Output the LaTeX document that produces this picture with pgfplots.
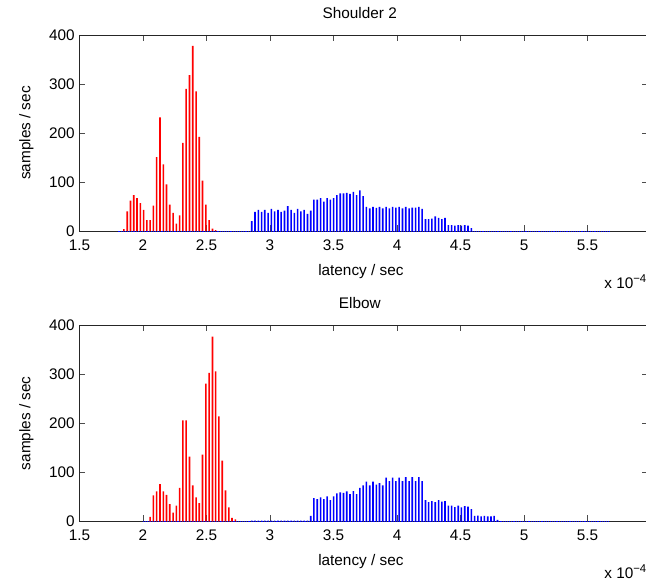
\documentclass[border=0pt]{standalone}
\usepackage{fontspec}
\setmainfont{Liberation Sans}
\usepackage{pgfplots}
\pgfplotsset{compat=1.18}

\pgfplotsset{
  mathist/.style={
    scale only axis, width=426.4pt, height=147pt,
    anchor=south west,
    xmin=1.5, xmax=5.976, ymin=0, ymax=400,
    xtick={1.5,2,2.5,3,3.5,4,4.5,5,5.5},
    ytick={0,100,200,300,400},
    tick align=inside, major tick length=4.5pt,
    xtick pos=both, ytick pos=both,
    axis line style={line width=0.4pt, black!85},
    every tick/.style={line width=0.4pt, black!70},
    /pgf/number format/assume math mode=true,
    tick label style={font=\fontsize{11.5}{13}\selectfont},
    xticklabel style={yshift=-3pt},
    label style={font=\fontsize{11.5}{13}\selectfont},
    every axis title/.style={font=\fontsize{11.5}{13}\selectfont, at={(axis description cs:0.493,1.112)}, anchor=center},
    xlabel style={at={(axis description cs:0.495,-0.205)}, anchor=center},
    ylabel style={at={(axis description cs:-0.0932,0.5)}, anchor=center, rotate=0},
    xlabel={latency / sec}, ylabel={samples / sec},
    clip=false,
  },
  redbar/.style={ybar, bar shift=0pt, bar width=1.2pt, fill=red, draw=none},
  bluebar/.style={ybar, bar shift=0pt, bar width=1.2pt, fill=blue, draw=none},
}

\begin{document}
\begin{tikzpicture}[x=1pt,y=1pt]
\path[use as bounding box] (0,0) rectangle (484.5,435.75);

% top: Shoulder 2
\begin{axis}[mathist, at={(59.6pt,262.5pt)}, title={Shoulder 2}]
\addplot[blue, densely dotted, line width=0.4pt] coordinates {(1.80,0) (5.67,0)};
\addplot[redbar] coordinates {
(1.850,4) (1.876,40) (1.902,62) (1.927,73) (1.953,67) (1.979,57) (2.005,43) (2.031,22)
(2.056,22) (2.082,52) (2.108,151) (2.134,232) (2.160,136) (2.185,95) (2.211,54) (2.237,37)
(2.263,15) (2.289,32) (2.314,180) (2.340,290) (2.366,318) (2.392,378) (2.418,285) (2.443,192)
(2.469,103) (2.495,54) (2.521,22) (2.547,5) (2.572,2)};
\addplot[bluebar] coordinates {
(2.856,20) (2.882,39) (2.908,43) (2.934,39) (2.959,43) (2.985,37) (3.011,45) (3.037,40)
(3.063,43) (3.088,39) (3.114,41.5) (3.140,51) (3.166,43) (3.192,37) (3.217,45) (3.243,40)
(3.269,43) (3.295,35) (3.321,41.5) (3.346,64) (3.372,64) (3.398,67) (3.424,60) (3.450,67)
(3.475,64) (3.501,67) (3.527,73) (3.553,77) (3.579,77) (3.604,78) (3.630,76) (3.656,80)
(3.682,73) (3.708,83) (3.733,71) (3.759,49) (3.785,46) (3.811,49) (3.837,47) (3.862,49)
(3.888,46) (3.914,49) (3.940,46) (3.966,49) (3.991,47.5) (4.017,49) (4.043,46) (4.069,49)
(4.095,46) (4.120,47.5) (4.146,47.5) (4.172,49) (4.198,45) (4.224,24) (4.249,24) (4.275,25)
(4.301,30) (4.327,27) (4.353,24) (4.378,27) (4.404,12) (4.430,12) (4.456,11) (4.482,12)
(4.507,11) (4.533,12) (4.559,11) (4.585,6)};
\node[anchor=west, font=\fontsize{11.5}{13}\selectfont] at (axis description cs:0.915,-0.258) {x 10\raisebox{0.8ex}{\fontsize{8.5}{9}\selectfont −4}};
\end{axis}

% bottom: Elbow
\begin{axis}[mathist, at={(59.6pt,44.8pt)}, title={Elbow}]
\addplot[blue, densely dotted, line width=0.4pt] coordinates {(2.00,0) (5.67,0)};
\addplot[redbar] coordinates {
(2.056,9) (2.082,53) (2.108,61) (2.134,76) (2.160,61) (2.185,54) (2.211,35) (2.237,17.5)
(2.263,32) (2.289,68) (2.314,206) (2.340,206) (2.366,132) (2.392,73) (2.418,49) (2.443,37)
(2.469,136) (2.495,281) (2.521,303) (2.547,377) (2.572,306) (2.598,214) (2.624,124) (2.650,63)
(2.676,28.5) (2.701,7) (2.727,4)};
\addplot[bluebar] coordinates {
(2.856,1.5) (2.882,1.5) (2.908,1.5) (2.934,1.5) (2.959,1.5) (2.985,1.5) (3.011,1.5) (3.037,1.5)
(3.063,1.5) (3.088,1.5) (3.114,1.5) (3.140,1.5) (3.166,1.5) (3.192,1.5) (3.217,1.5) (3.243,1.5)
(3.269,1.5) (3.295,1.5)
(3.321,11) (3.346,47) (3.372,45) (3.398,49) (3.424,45) (3.450,51) (3.475,43) (3.501,51)
(3.527,57) (3.553,59) (3.579,58) (3.604,61) (3.630,55.5) (3.656,61.6) (3.682,55.5) (3.708,68)
(3.733,73) (3.759,81) (3.785,73) (3.811,81) (3.837,75) (3.862,78) (3.888,73) (3.914,89)
(3.940,82) (3.966,89) (3.991,82) (4.017,89) (4.043,82) (4.069,90) (4.095,82) (4.120,90)
(4.146,82) (4.172,90) (4.198,82) (4.224,43) (4.249,39) (4.275,41) (4.301,39) (4.327,43)
(4.353,40) (4.378,41) (4.404,32) (4.430,32) (4.456,29) (4.482,32) (4.507,28.5) (4.533,31)
(4.559,30) (4.585,25) (4.611,11) (4.636,11.5) (4.662,10) (4.688,11) (4.714,10) (4.740,10)
(4.765,11) (4.791,2.6)};
\node[anchor=west, font=\fontsize{11.5}{13}\selectfont] at (axis description cs:0.915,-0.258) {x 10\raisebox{0.8ex}{\fontsize{8.5}{9}\selectfont −4}};
\end{axis}
\end{tikzpicture}
\end{document}
